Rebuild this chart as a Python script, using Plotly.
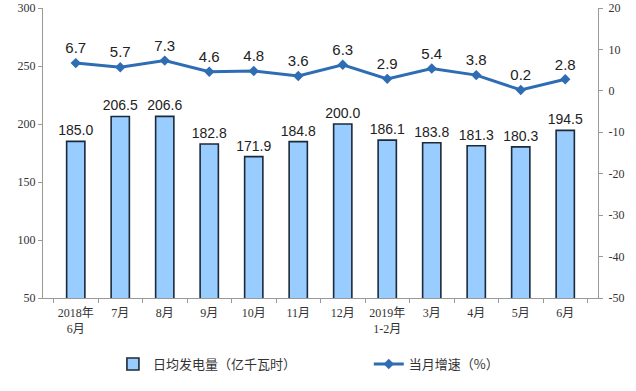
import plotly.graph_objects as go

categories = ["2018年<br>6月", "7月", "8月", "9月", "10月", "11月", "12月",
              "2019年<br>1-2月", "3月", "4月", "5月", "6月"]
daily_gen = [185.0, 206.5, 206.6, 182.8, 171.9, 184.8, 200.0, 186.1, 183.8, 181.3, 180.3, 194.5]
growth = [6.7, 5.7, 7.3, 4.6, 4.8, 3.6, 6.3, 2.9, 5.4, 3.8, 0.2, 2.8]
left_ticks = [50, 100, 150, 200, 250, 300]
right_ticks = [-50, -40, -30, -20, -10, 0, 10, 20]

bar_name = "日均发电量（亿千瓦时）"
line_name = "当月增速（%）"

tick_font = dict(family="Liberation Serif, Noto Sans CJK SC", size=12, color="#333333")
label_font = dict(family="Liberation Sans, Arial", size=14, color="#222222")
legend_font = dict(family="Noto Sans CJK SC", size=13, color="#333333")

fig = go.Figure()
fig.add_trace(go.Bar(
    x=categories, y=daily_gen, name=bar_name,
    marker=dict(color="#99CCFF", line=dict(color="#1B2A3A", width=1.6)),
    width=0.41,
    text=[f"{v:.1f}" for v in daily_gen], textposition="outside",
    textfont=label_font, cliponaxis=False, constraintext="none",
    legend="legend",
))
fig.add_trace(go.Scatter(
    x=categories, y=growth, name=line_name, yaxis="y2",
    mode="lines+markers+text",
    line=dict(color="#2E6DB4", width=3),
    marker=dict(symbol="diamond", size=8, color="#2E6DB4"),
    text=[f"{v:.1f}" for v in growth], textposition="top center",
    textfont=dict(family="Liberation Sans, Arial", size=15, color="#222222"),
    cliponaxis=False, legend="legend2",
))

fig.update_layout(
    width=636, height=391,
    margin=dict(l=43, r=38, t=8, b=93, autoexpand=False),
    paper_bgcolor="white", plot_bgcolor="white",
    showlegend=True,
    legend=dict(x=0.126, xanchor="left", y=-0.228, yanchor="middle",
                font=legend_font, itemwidth=30, bgcolor="rgba(0,0,0,0)"),
    legend2=dict(x=0.587, xanchor="left", y=-0.228, yanchor="middle",
                 font=legend_font, itemwidth=30, bgcolor="rgba(0,0,0,0)"),
    bargap=0.59,
    xaxis=dict(showline=True, linecolor="#999999", linewidth=1,
               ticks="outside", tickson="boundaries", ticklen=4, tickcolor="#999999",
               tickfont=tick_font, tickangle=0, ticklabelstandoff=4,
               showgrid=False, automargin=False),
    yaxis=dict(range=[50, 300], tickvals=left_ticks, ticktext=[str(v) for v in left_ticks],
               showline=True, linecolor="#999999", linewidth=1,
               ticks="outside", ticklen=4, tickcolor="#999999",
               showgrid=False, zeroline=False, tickfont=tick_font, automargin=False),
    yaxis2=dict(range=[-50, 20], tickvals=right_ticks, ticktext=[str(v) for v in right_ticks],
                overlaying="y", side="right",
                showline=True, linecolor="#999999", linewidth=1,
                ticks="outside", ticklen=4, tickcolor="#999999", ticklabelstandoff=3,
                showgrid=False, zeroline=False, tickfont=tick_font, automargin=False),
)

# remove the browser's default 8px body margin so the figure sits at the window origin
fig.write_html("out.html", config={"displayModeBar": False},
               post_script="document.body.style.margin='0';")
